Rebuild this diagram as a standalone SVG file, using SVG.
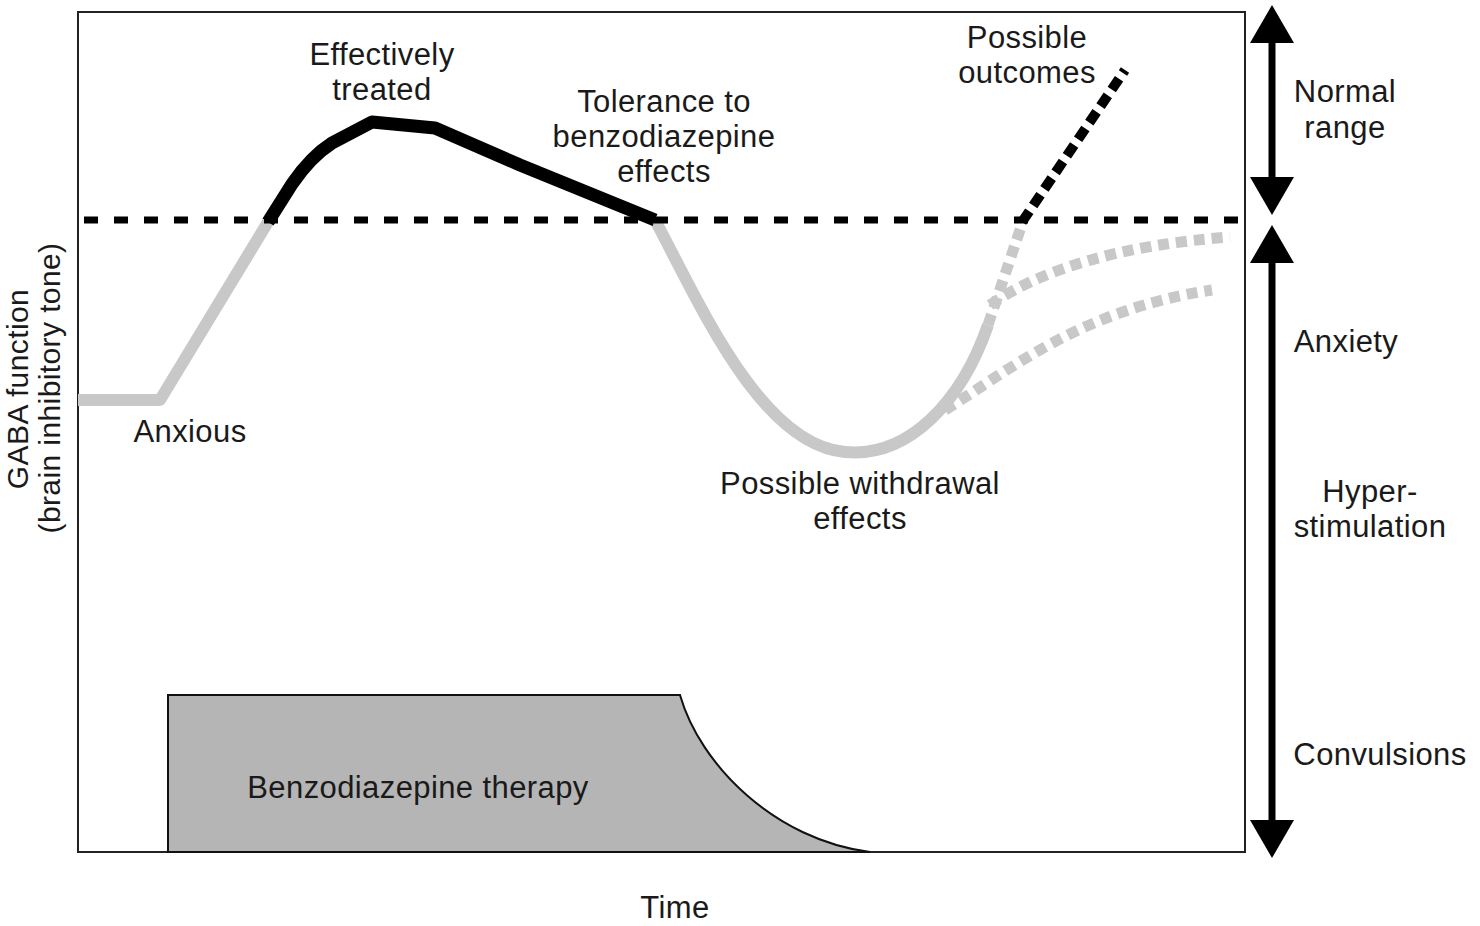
<svg xmlns="http://www.w3.org/2000/svg" width="1480" height="926" viewBox="0 0 1480 926">
<style>
text{font-family:"Liberation Sans",Arial,sans-serif;font-size:31px;letter-spacing:0.4px;fill:#1a1a1a;text-anchor:middle}
.yl{font-size:30px}
.gray{fill:none;stroke:#c8c8c8;stroke-width:12;stroke-linejoin:round}
.gdot{fill:none;stroke:#c8c8c8;stroke-width:11;stroke-dasharray:11 7}
.arrow{stroke:#000;stroke-width:7}
</style>
<defs>
<marker id="ah" viewBox="0 0 38 44" refX="0" refY="22" markerWidth="38" markerHeight="44" markerUnits="userSpaceOnUse" orient="auto-start-reverse">
<path d="M0,0 L38,22 L0,44 Z" fill="#000"/>
</marker>
</defs>
<rect width="1480" height="926" fill="#fff"/>
<rect id="frame" x="78" y="12" width="1167" height="840" fill="none" stroke="#222" stroke-width="2"/>
<g id="therapy">
<path d="M168,852 V695 H680 C700,765 775,840 870,852 Z" fill="#b5b5b5" stroke="#111" stroke-width="2"/>
<text x="418" y="798">Benzodiazepine therapy</text>
</g>
<g id="connectors">
<path class="gray" d="M78,400 H160 L268,222"/>
<path class="gray" d="M655,220 C698,300 760,445 845,452 C910,458 962,400 988,325"/>
<path class="gdot" d="M988,325 L1022,224"/>
<path class="gdot" d="M990,305 C1040,270 1120,245 1230,237"/>
<path class="gdot" d="M945,410 C1010,370 1080,310 1212,290"/>
<path d="M84,220 H1240" stroke="#000" stroke-width="7" stroke-dasharray="14 16" fill="none"/>
<path d="M268,222 L292,184 C305,165 318,152 332,143 L372,122 L435,128 L520,165 L655,220" fill="none" stroke="#000" stroke-width="13" stroke-linejoin="round"/>
<path d="M1022,222 L1125,70" stroke="#000" stroke-width="10" stroke-dasharray="13 7" fill="none"/>
<line class="arrow" x1="1272" y1="43" x2="1272" y2="177" marker-start="url(#ah)" marker-end="url(#ah)"/>
<line class="arrow" x1="1272" y1="263" x2="1272" y2="820" marker-start="url(#ah)" marker-end="url(#ah)"/>
</g>
<g id="labels">
<text x="382" y="65">Effectively</text>
<text x="382" y="100">treated</text>
<text x="664" y="112">Tolerance to</text>
<text x="664" y="147">benzodiazepine</text>
<text x="664" y="182">effects</text>
<text x="1027" y="48">Possible</text>
<text x="1027" y="83">outcomes</text>
<text x="1345" y="102">Normal</text>
<text x="1345" y="138">range</text>
<text x="1346" y="352">Anxiety</text>
<text x="1370" y="502">Hyper-</text>
<text x="1370" y="537">stimulation</text>
<text x="1380" y="765">Convulsions</text>
<text x="190" y="442">Anxious</text>
<text x="860" y="494">Possible withdrawal</text>
<text x="860" y="529">effects</text>
<text x="675" y="918">Time</text>
<text class="yl" transform="translate(28,389) rotate(-90)">GABA function</text>
<text class="yl" transform="translate(60,388) rotate(-90)">(brain inhibitory tone)</text>
</g>
</svg>
